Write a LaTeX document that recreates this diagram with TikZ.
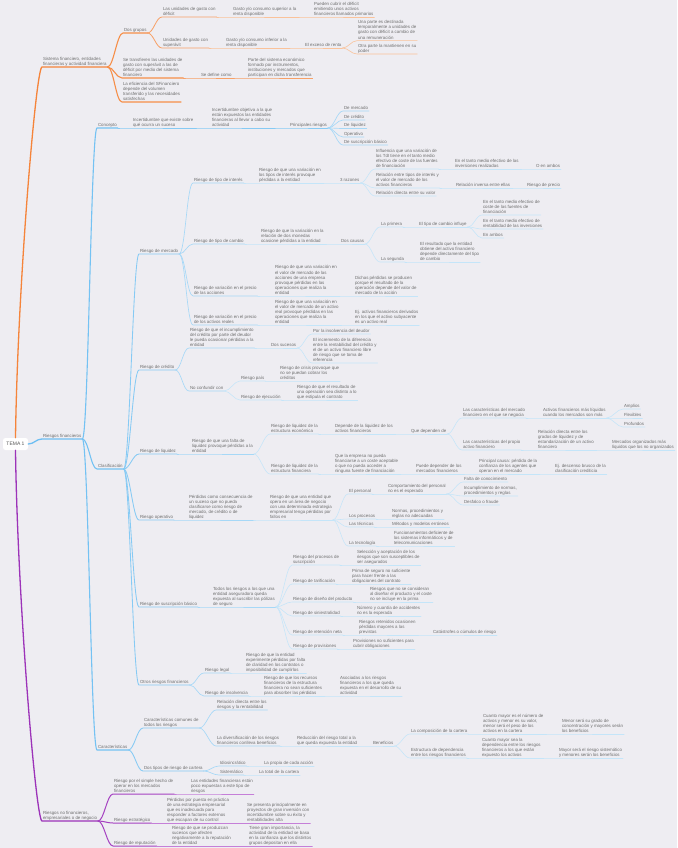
\documentclass[tikz,border=0pt]{standalone}
\usepackage{fontspec}
\setmainfont{Liberation Sans}
\usepackage{tikz}

\definecolor{bg}{HTML}{EEEDF2}
\definecolor{ink}{HTML}{6E6E6E}
\definecolor{or1}{HTML}{F5843A}
\definecolor{or2}{HTML}{F68E48}
\definecolor{or3}{HTML}{F7A066}
\definecolor{or4}{HTML}{FAC29A}
\definecolor{bl1}{HTML}{6DBEF2}
\definecolor{bl2}{HTML}{74C2F3}
\definecolor{bl3}{HTML}{86CAF4}
\definecolor{bl4}{HTML}{A6D8F7}
\definecolor{bl5}{HTML}{C4E5F9}
\definecolor{pu1}{HTML}{9C33B9}
\definecolor{pu2}{HTML}{A541C1}
\definecolor{pu3}{HTML}{C57FD8}

\tikzset{
  txt/.style={anchor=south west, align=left, inner xsep=0.8pt, inner ysep=1.4pt,
    text depth=0pt, text=ink, font=\fontsize{4.4}{5.1}\selectfont},
  rootbox/.style={fill=white, rounded corners=2.5pt, minimum width=25pt,
    minimum height=12pt, inner sep=0pt, text=ink!80!black, font=\fontsize{5}{6}\selectfont},
  link/.style={to path={.. controls +(6,0) and +(-6,0) .. (\tikztotarget)}},
  o1/.style={draw=or1, line width=1.3pt, line cap=round},
  o2/.style={draw=or2, line width=1.1pt, line cap=round},
  o3/.style={draw=or3, line width=0.8pt, line cap=round},
  o4/.style={draw=or4, line width=0.6pt, line cap=round},
  b1/.style={draw=bl1, line width=1.3pt, line cap=round},
  b2/.style={draw=bl2, line width=1.1pt, line cap=round},
  b3/.style={draw=bl3, line width=0.85pt, line cap=round},
  b4/.style={draw=bl4, line width=0.65pt, line cap=round},
  b5/.style={draw=bl5, line width=0.55pt, line cap=round},
  p1/.style={draw=pu1, line width=1.3pt, line cap=round},
  p2/.style={draw=pu2, line width=1.0pt, line cap=round},
  p3/.style={draw=pu3, line width=0.7pt, line cap=round},
}

\begin{document}
\begin{tikzpicture}[x=1pt, y=-1pt]
\fill[bg] (0,0) rectangle (677,848);
\useasboundingbox (0,0) rectangle (677,848);

\node[rootbox] (root) at (15.5,444) {TEMA 1};

% sistema financiero
\node[txt] (sys) at (42,67) {Sistema financiero, entidades\\financieras y actividad financiera};
\node[txt] (dg) at (123,33) {Dos grupos};
\node[txt] (udef) at (162,17) {Las unidades de gasto con\\déficit};
\node[txt] (gsup) at (232,17) {Gasto y/o consumo superior a la\\renta disponible};
\node[txt] (pcub) at (313,17) {Pueden cubrir el déficit\\emitiendo unos activos\\financieros llamados primarios};
\node[txt] (usup) at (162,48) {Unidades de gasto con\\superávit};
\node[txt] (ginf) at (225,48) {Gasto y/o consumo inferior a la\\renta disponible};
\node[txt] (exc) at (304,48) {El exceso de renta};
\node[txt] (upar) at (357,40.7) {Una parte es destinada\\temporalmente a unidades de\\gasto con déficit a cambio de\\una remuneración};
\node[txt] (opar) at (357,54) {Otra parte la mantienen en su\\poder};
\node[txt] (stra) at (122,78) {Se transfieren las unidades de\\gasto con superávit a las de\\déficit por medio del sistema\\financiero};
\node[txt] (sdef) at (200,78) {Se define como};
\node[txt] (pse) at (247,78) {Parte del sistema económico\\formado por instrumentos,\\instituciones y mercados que\\participan en dicha transferencia};
\node[txt] (efi) at (122,102) {La eficiencia del SFinanciero\\depende del volumen\\transferido y las necesidades\\satisfechas};

% riesgos financieros: concepto
\node[txt] (rf) at (42,439) {Riesgos financieros};
\node[txt] (con) at (97,128) {Concepto};
\node[txt] (inc) at (132,128) {Incertidumbre que existe sobre\\qué ocurra un suceso};
\node[txt] (ioj) at (211,128) {Incertidumbre objetiva a la que\\están expuestos las entidades\\financieras al llevar a cabo su\\actividad};
\node[txt] (prr) at (289,128) {Principales riesgos};
\node[txt] (dme) at (343,111) {De mercado};
\node[txt] (dcr) at (343,120) {De crédito};
\node[txt] (dli) at (343,128.5) {De liquidez};
\node[txt] (dop) at (343,137) {Operativo};
\node[txt] (dsu) at (343,145) {De suscripción básico};

% clasificacion: mercado
\node[txt] (cla) at (97,469) {Clasificación};
\node[txt] (rme) at (139,254) {Riesgo de mercado};
\node[txt] (rti) at (193,183) {Riesgo de tipo de interés};
\node[txt] (rtiq) at (258,183) {Riesgo de que una variación en\\los tipos de interés provoque\\pérdidas a la entidad};
\node[txt] (r3) at (339,183) {3 razones};
\node[txt] (inf) at (375,169) {Influencia que una variación de\\los TdI tiene en el tanto medio\\efectivo de coste de las fuentes\\de financiación};
\node[txt] (inv) at (454,169) {En el tanto medio efectivo de las\\inversiones realizadas};
\node[txt] (oam) at (535,169) {O en ambos};
\node[txt] (rel) at (375,188) {Relación entre tipos de interés y\\el valor de mercado de los\\activos financieros};
\node[txt] (rinv) at (455,188) {Relación inversa entre ellas};
\node[txt] (rpre) at (526,188) {Riesgo de precio};
\node[txt] (rdir) at (375,196) {Relación directa entre su valor};
\node[txt] (rtc) at (193,244) {Riesgo de tipo de cambio};
\node[txt] (rtcq) at (260,244) {Riesgo de que la variación en la\\relación de dos monedas\\ocasione pérdidas a la entidad};
\node[txt] (dca) at (340,244) {Dos causas};
\node[txt] (lpri) at (380,227) {La primera};
\node[txt] (tci) at (418,227) {El tipo de cambio influye};
\node[txt] (ecf) at (482,215) {En el tanto medio efectivo de\\coste de las fuentes de\\financiación};
\node[txt] (ecr) at (482,229) {En el tanto medio efectivo de\\rentabilidad de las inversiones};
\node[txt] (eam) at (482,238) {En ambos};
\node[txt] (lseg) at (380,262) {La segunda};
\node[txt] (ers) at (419,262) {El resultado que la entidad\\obtiene del activo financiero\\depende directamente del tipo\\de cambio};
\node[txt] (rva) at (193,296) {Riesgo de variación en el precio\\de las acciones};
\node[txt] (rvaq) at (274,296) {Riesgo de que una variación en\\el valor de mercado de las\\acciones de una empresa\\provoque pérdidas en las\\operaciones que realiza la\\entidad};
\node[txt] (dpp) at (354,296) {Dichas pérdidas se producen\\porque el resultado de la\\operación depende del valor de\\mercado de la acción};
\node[txt] (rvr) at (193,325) {Riesgo de variación en el precio\\de los activos reales};
\node[txt] (rvrq) at (274,325) {Riesgo de que una variación en\\el valor de mercado de un activo\\real provoque pérdidas en las\\operaciones que realiza la\\entidad};
\node[txt] (ejd) at (354,325) {Ej. activos financieros derivados\\en los que el activo subyacente\\es un activo real};

% credito
\node[txt] (rcr) at (139,370) {Riesgo de crédito};
\node[txt] (rcrq) at (189,348) {Riesgo de que el incumplimiento\\del crédito por parte del deudor\\le pueda ocasionar pérdidas a la\\entidad};
\node[txt] (dsc) at (270,348) {Dos sucesos};
\node[txt] (pin) at (312,334) {Por la insolvencia del deudor};
\node[txt] (eid) at (312,363) {El incremento de la diferencia\\entre la rentabilidad del crédito y\\el de un activo financiero libre\\de riesgo que se toma de\\referencia};
\node[txt] (ncc) at (189,391) {No confundir con};
\node[txt] (rpa) at (240,381) {Riesgo país};
\node[txt] (rpaq) at (279,381) {Riesgo de crisis provoque que\\no se puedan cobrar los\\créditos};
\node[txt] (rej) at (240,400) {Riesgo de ejecución};
\node[txt] (rejq) at (296,400) {Riesgo de que el resultado de\\una operación sea distinto a lo\\que estipula el contrato};

% liquidez
\node[txt] (rli) at (139,454) {Riesgo de liquidez};
\node[txt] (rliq) at (191,454) {Riesgo de que una falta de\\liquidez provoque pérdidas a la\\entidad};
\node[txt] (rle) at (270,434) {Riesgo de liquidez de la\\estructura económica};
\node[txt] (dlq) at (334,434) {Depende de la liquidez de los\\activos financieros};
\node[txt] (qdd) at (410,434) {Que dependen de};
\node[txt] (cmf) at (462,418) {Las características del mercado\\financiero en el que se negocia};
\node[txt] (afl) at (542,418) {Activos financieros más líquidos\\cuando los mercados son más};
\node[txt] (amp) at (623,409) {Amplios};
\node[txt] (fle) at (623,418) {Flexibles};
\node[txt] (pro) at (623,427) {Profundos};
\node[txt] (cpa) at (462,450) {Las características del propio\\activo financiero};
\node[txt] (rdg) at (537,450) {Relación directa entre los\\grados de liquidez y de\\estandarización de un activo\\financiero};
\node[txt] (mor) at (611,450) {Mercados organizados más\\líquidos que los no organizados};
\node[txt] (rlf) at (270,474) {Riesgo de liquidez de la\\estructura financiera};
\node[txt] (qen) at (334,474) {Que la empresa no pueda\\financiarse a un coste aceptable\\o que no pueda acceder a\\ninguna fuente de financiación};
\node[txt] (pdm) at (415,474) {Puede depender de los\\mercados financieros};
\node[txt] (pcp) at (478,474) {Principal causa: pérdida de la\\confianza de los agentes que\\operan en el mercado};
\node[txt] (ejb) at (554,474) {Ej. descenso brusco de la\\clasificación crediticia};

% operativo
\node[txt] (rop) at (139,520) {Riesgo operativo};
\node[txt] (ropq) at (188,520) {Pérdidas como consecuencia de\\un suceso que no pueda\\clasificarse como riesgo de\\mercado, de crédito o de\\liquidez};
\node[txt] (roe) at (269,520) {Riesgo de que una entidad que\\opera en un área de negocio\\con una determinada estrategia\\empresarial tenga pérdidas por\\fallos en};
\node[txt] (epe) at (348,494) {El personal};
\node[txt] (cpe) at (387,494) {Comportamiento del personal\\no es el esperado};
\node[txt] (fco) at (463,482) {Falta de conocimiento};
\node[txt] (inr) at (463,496) {Incumplimiento de normas,\\procedimientos y reglas};
\node[txt] (dfr) at (463,505) {Desfalco o fraude};
\node[txt] (lpr) at (348,519) {Los procesos};
\node[txt] (npr) at (391,519) {Normas, procedimientos y\\reglas no adecuadas};
\node[txt] (lte) at (348,527) {Las técnicas};
\node[txt] (mme) at (391,527) {Métodos y modelos erróneos};
\node[txt] (ltc) at (348,546) {La tecnología};
\node[txt] (fde) at (393,546) {Funcionamientos deficiente de\\los sistemas informáticos y de\\telecomunicaciones};

% suscripcion basico
\node[txt] (rsb) at (139,607) {Riesgo de suscripción básico};
\node[txt] (rsbq) at (212,607) {Todos los riesgos a los que una\\entidad aseguradora queda\\expuesta al suscribir las pólizas\\de seguro};
\node[txt] (rps) at (292,565) {Riesgo del procesos de\\suscripción};
\node[txt] (sac) at (356,565) {Selección y aceptación de los\\riesgos que son susceptibles de\\ser asegurados};
\node[txt] (rta) at (292,584) {Riesgo de tarificación};
\node[txt] (psn) at (351,584) {Prima de seguro no suficiente\\para hacer frente a las\\obligaciones del contrato};
\node[txt] (rdp) at (292,602) {Riesgo de diseño del producto};
\node[txt] (rnc) at (369,602) {Riesgos que no se consideran\\al diseñar el producto y el coste\\no se incluye en la prima};
\node[txt] (rsi) at (292,616) {Riesgo de siniestralidad};
\node[txt] (nca) at (356,616) {Número y cuantía de accidentes\\no es la esperada};
\node[txt] (rrn) at (292,635) {Riesgo de retención neta};
\node[txt] (rro) at (358,635) {Riesgos retenidos ocasionen\\pérdidas mayores a las\\previstas};
\node[txt] (ccr) at (432,635) {Catástrofes o cúmulos de riesgo};
\node[txt] (rpv) at (292,649) {Riesgo de provisiones};
\node[txt] (pns) at (352,649) {Provisiones no suficientes para\\cubrir obligaciones};

% otros
\node[txt] (orf) at (139,685) {Otros riesgos financieros};
\node[txt] (rlg) at (204,673) {Riesgo legal};
\node[txt] (rlq) at (245,673) {Riesgo de que la entidad\\experimente pérdidas por falta\\de claridad en los contratos o\\imposibilidad de cumplirlos};
\node[txt] (rin) at (204,696) {Riesgo de insolvencia};
\node[txt] (rinq) at (263,696) {Riesgo de que los recursos\\financieros de la estructura\\financiera no sean suficientes\\para absorber las pérdidas};
\node[txt] (aso) at (339,696) {Asociadas a los riesgos\\financieros a los que queda\\expuesta en el desarrollo de su\\actividad};

% caracteristicas
\node[txt] (car) at (97,750) {Características};
\node[txt] (ccm) at (143,728) {Características comunes de\\todos los riesgos};
\node[txt] (rdr) at (216,710) {Relación directa entre los\\riesgos y la rentabilidad};
\node[txt] (ldv) at (216,746) {La diversificación de los riesgos\\financieros conlleva beneficios};
\node[txt] (rrt) at (296,746) {Reducción del riesgo total a la\\que queda expuesta la entidad};
\node[txt] (ben) at (372,746) {Beneficios};
\node[txt] (lcc) at (410,734) {La composición de la cartera};
\node[txt] (cma) at (482,734) {Cuanto mayor es el número de\\activos y menor es su valor,\\menor será el peso de los\\activos en la cartera};
\node[txt] (msg) at (561,734) {Menor será su grado de\\concentración y mayores serán\\los beneficios};
\node[txt] (edp) at (410,758) {Estructura de dependencia\\entre los riesgos financieros};
\node[txt] (cms) at (481,758) {Cuanto mayor sea la\\dependencia entre los riesgos\\financieros a los que están\\expuesto los activos};
\node[txt] (mrs) at (558,758) {Mayor será el riesgo sistemático\\y menores serán los beneficios};
\node[txt] (dtr) at (143,771) {Dos tipos de riesgo de cartera};
\node[txt] (idi) at (219,766) {Idiosincrático};
\node[txt] (lpc) at (263,766) {La propia de cada acción};
\node[txt] (sis) at (219,775) {Sistemático};
\node[txt] (ltot) at (258,775) {La total de la cartera};

% riesgos no financieros
\node[txt] (rnf) at (42,821) {Riesgos no financieros,\\empresariales o de negocio};
\node[txt] (rsh) at (113,794) {Riesgo por el simple hecho de\\operar en los mercados\\financieros};
\node[txt] (lef) at (190,794) {Las entidades financieras están\\poco expuestas a este tipo de\\riesgos};
\node[txt] (res) at (113,823) {Riesgo estratégico};
\node[txt] (ppp) at (166,823) {Pérdidas por puesta en práctica\\de una estrategia empresarial\\que es inadecuada para\\responder a factores externos\\que escapan de su control};
\node[txt] (spp) at (246,823) {Se presenta principalmente en\\proyectos de gran inversión con\\incertidumbre sobre su éxito y\\rentabilidades alta};
\node[txt] (rre) at (113,846) {Riesgo de reputación};
\node[txt] (rsp) at (171,846) {Riesgo de que se produzcan\\sucesos que afecten\\negativamente a la reputación\\de la entidad};
\node[txt] (tgi) at (248,846) {Tiene gran importancia, la\\actividad de la entidad se basa\\en la confianza que los distintos\\grupos depositan en ella};

% connectors from the root
\draw[o1] (root.north) .. controls +(2,-150) and +(-6,0) .. (sys.south west) -- (sys.south east);
\draw[b1] (root.east) to[link] (rf.south west) -- (rf.south east);
\draw[p1] (root.south) .. controls +(2,150) and +(-6,0) .. (rnf.south west) -- (rnf.south east);

% orange branch
\foreach \a/\b in {sys/dg, sys/stra, sys/efi}
  \draw[o2] (\a.south east) to[link] (\b.south west) -- (\b.south east);
\foreach \a/\b in {dg/udef, dg/usup, stra/sdef, sdef/pse}
  \draw[o3] (\a.south east) to[link] (\b.south west) -- (\b.south east);
\foreach \a/\b in {udef/gsup, gsup/pcub, usup/ginf, ginf/exc, exc/upar, exc/opar}
  \draw[o4] (\a.south east) to[link] (\b.south west) -- (\b.south east);

% blue branch
\foreach \a/\b in {rf/con, rf/cla, rf/car}
  \draw[b2] (\a.south east) to[link] (\b.south west) -- (\b.south east);
\foreach \a/\b in {con/inc, inc/ioj, ioj/prr, cla/rme, cla/rcr, cla/rli, cla/rop, cla/rsb, cla/orf, car/ccm, car/dtr}
  \draw[b3] (\a.south east) to[link] (\b.south west) -- (\b.south east);
\foreach \a/\b in {prr/dme, prr/dcr, prr/dli, prr/dop, prr/dsu, rme/rti, rme/rtc, rme/rva, rme/rvr,
    rcr/rcrq, rcr/ncc, rli/rliq, rop/ropq, rsb/rsbq, orf/rlg, orf/rin, ccm/rdr, ccm/ldv, dtr/idi, dtr/sis}
  \draw[b4] (\a.south east) to[link] (\b.south west) -- (\b.south east);
\foreach \a/\b in {rti/rtiq, rtiq/r3, r3/inf, inf/inv, inv/oam, r3/rel, rel/rinv, rinv/rpre, r3/rdir,
    rtc/rtcq, rtcq/dca, dca/lpri, lpri/tci, tci/ecf, tci/ecr, tci/eam, dca/lseg, lseg/ers,
    rva/rvaq, rvaq/dpp, rvr/rvrq, rvrq/ejd,
    rcrq/dsc, dsc/pin, dsc/eid, ncc/rpa, rpa/rpaq, ncc/rej, rej/rejq,
    rliq/rle, rle/dlq, dlq/qdd, qdd/cmf, cmf/afl, afl/amp, afl/fle, afl/pro, qdd/cpa, cpa/rdg, rdg/mor,
    rliq/rlf, rlf/qen, qen/pdm, pdm/pcp, pcp/ejb,
    ropq/roe, roe/epe, epe/cpe, cpe/fco, cpe/inr, cpe/dfr, roe/lpr, lpr/npr, roe/lte, lte/mme, roe/ltc, ltc/fde,
    rsbq/rps, rps/sac, rsbq/rta, rta/psn, rsbq/rdp, rdp/rnc, rsbq/rsi, rsi/nca, rsbq/rrn, rrn/rro, rro/ccr, rsbq/rpv, rpv/pns,
    rlg/rlq, rin/rinq, rinq/aso,
    ldv/rrt, rrt/ben, ben/lcc, lcc/cma, cma/msg, ben/edp, edp/cms, cms/mrs, idi/lpc, sis/ltot}
  \draw[b5] (\a.south east) to[link] (\b.south west) -- (\b.south east);

% purple branch
\foreach \a/\b in {rnf/rsh, rnf/res, rnf/rre}
  \draw[p2] (\a.south east) to[link] (\b.south west) -- (\b.south east);
\foreach \a/\b in {rsh/lef, res/ppp, ppp/spp, rre/rsp, rsp/tgi}
  \draw[p3] (\a.south east) to[link] (\b.south west) -- (\b.south east);
\end{tikzpicture}
\end{document}
